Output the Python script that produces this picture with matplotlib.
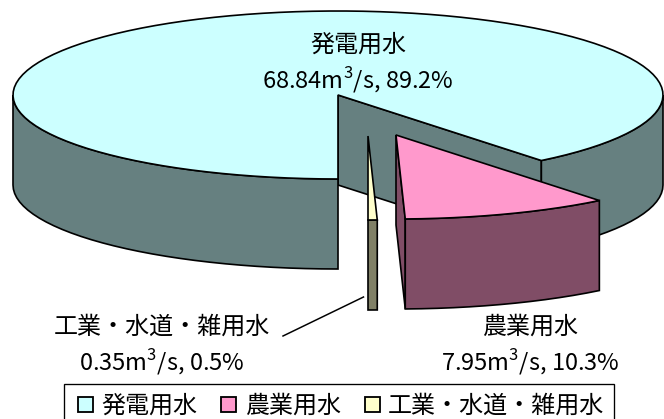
import numpy as np
import matplotlib
matplotlib.use("Agg")
import matplotlib.pyplot as plt
from matplotlib.patches import Polygon, Patch, Rectangle

# data
categories = ["発電用水", "農業用水", "工業・水道・雑用水"]
flows = [68.84, 7.95, 0.35]  # m3/s
shares = [89.2, 10.3, 0.5]  # %

top_colors = ["#CCFFFF", "#FF99CC", "#FFFFCC"]
wall_colors = ["#668080", "#804D66", "#808066"]

plt.rcParams["mathtext.fontset"] = "custom"
plt.rcParams["mathtext.rm"] = "Noto Sans CJK JP"
KANJI = ["Noto Sans CJK JP"]

# pie geometry in pixels
CX, CY = 338, 95
A, B = 325, 84
DEPTH = 90
LW = 1.2

# slices run clockwise starting from the front of the pie
sweeps = np.array(flows) / sum(flows) * 360
ends = -90 - np.cumsum(sweeps)
starts = ends + sweeps


def rim(t0, t1, dx=0, dy=0, step=3):
    # t in degrees, y axis points down
    n = max(2, int(abs(t1 - t0) / step) + 2)
    t = np.radians(np.linspace(t0, t1, n))
    return np.column_stack([CX + dx + A * np.cos(t), CY + dy - B * np.sin(t)])


def poly(ax, pts, color):
    ax.add_patch(Polygon(pts, closed=True, facecolor=color, edgecolor="black",
                         linewidth=LW, joinstyle="miter"))


def wall(ax, t0, t1, color, dx=0, dy=0):
    r = rim(t0, t1, dx, dy)
    poly(ax, np.vstack([r, r[::-1] + [0, DEPTH]]), color)


def side(ax, t, color, dx=0, dy=0):
    apex = np.array([CX + dx, CY + dy])
    r = rim(t, t, dx, dy)[0]
    poly(ax, [apex, r, r + [0, DEPTH], apex + [0, DEPTH]], color)


def sector(ax, t0, t1, color, dx=0, dy=0):
    poly(ax, np.vstack([[CX + dx, CY + dy], rim(t0, t1, dx, dy)]), color)


fig = plt.figure(figsize=(6.64, 4.19), dpi=100)
ax = fig.add_axes([0, 0, 1, 1])
ax.set_xlim(0, 664)
ax.set_ylim(419, 0)
ax.axis("off")

# big slice: inner cut face, outer walls, then the top
side(ax, ends[0] + 360, wall_colors[0])
wall(ax, -180, -90, wall_colors[0])
wall(ax, ends[0] + 360, 0, wall_colors[0])
sector(ax, starts[0], ends[0], top_colors[0])

# the two pulled out slices
off_ind = (30, 41)
wall(ax, ends[2] + 360, ends[1] + 360, wall_colors[2], *off_ind)
sector(ax, ends[2] + 360, ends[1] + 360, top_colors[2], *off_ind)

off_agr = (58, 40)
side(ax, ends[1] + 360, wall_colors[1], *off_agr)
wall(ax, ends[1] + 360, ends[0] + 360, wall_colors[1], *off_agr)
sector(ax, ends[1] + 360, ends[0] + 360, top_colors[1], *off_agr)

# leader line for the tiny slice
ax.plot([283, 363.5], [336, 297], color="black", linewidth=LW * 0.9)


def value_text(i):
    return f"{flows[i]:.2f}m$^3$/s, {shares[i]}%"


label_xy = [(358, 45, 80), (530, 327, 362), (162, 327, 362)]
for i, (x, y1, y2) in enumerate(label_xy):
    ax.text(x, y1, categories[i], family=KANJI, fontsize=17.3, ha="center", va="center")
    ax.text(x, y2, value_text(i), family=KANJI, fontsize=17, ha="center", va="center")

# legend frame runs off the bottom of the picture
ax.add_patch(Rectangle((63.5, 384), 550, 45, facecolor="white", edgecolor="black",
                       linewidth=LW * 0.8))
handles = [Patch(facecolor=c, edgecolor="black", linewidth=LW * 1.1) for c in top_colors]
leg = ax.legend(handles, categories, ncol=3, loc="upper left",
                bbox_to_anchor=(78 / 664, 1 - 393 / 419), bbox_transform=fig.transFigure,
                prop={"family": KANJI, "size": 17.3}, frameon=False,
                borderpad=0, handlelength=0.62, handleheight=0.62,
                handletextpad=0.35, columnspacing=1.0, borderaxespad=0)

fig.savefig("out.png", dpi=100)
